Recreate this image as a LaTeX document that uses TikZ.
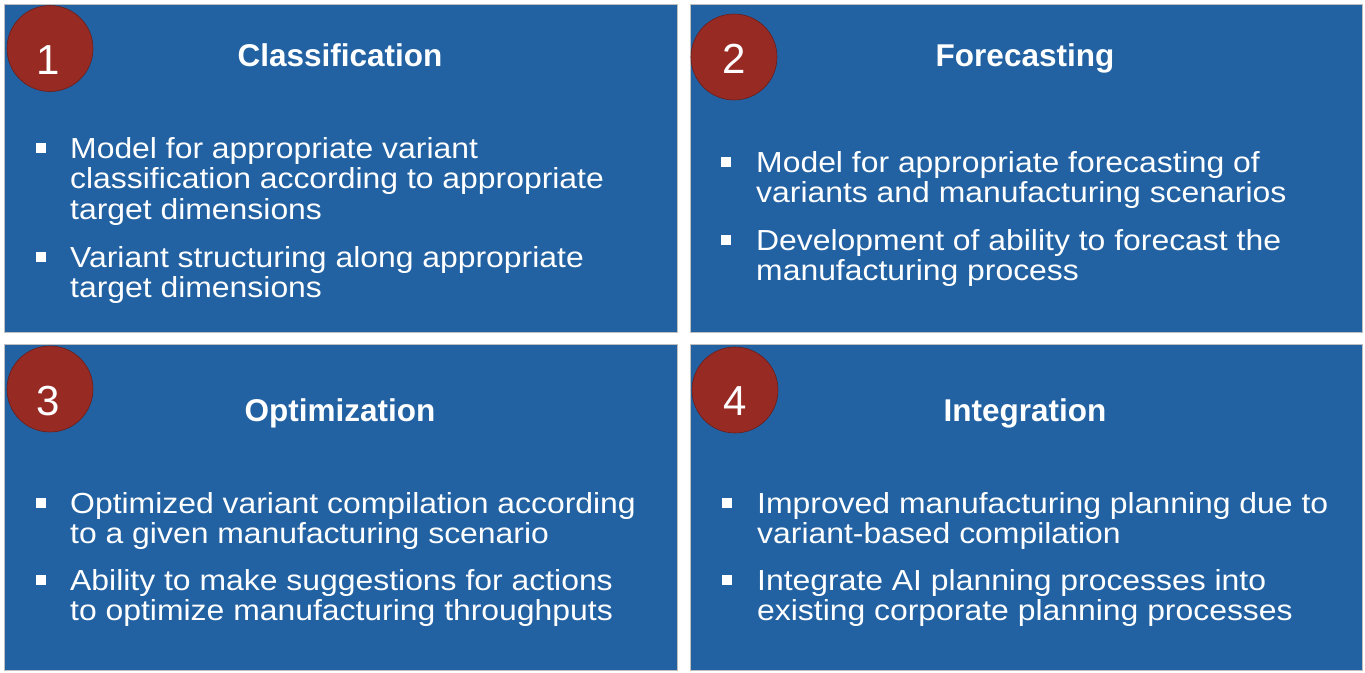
\documentclass[tikz,border=0pt]{standalone}
\usepackage{fontspec}
\setmainfont{Liberation Sans}
\newfontfamily\bodyfont[FakeStretch=1.1]{Liberation Sans}
\definecolor{boxblue}{HTML}{2262A2}
\definecolor{numred}{HTML}{982A24}
\begin{document}
\begin{tikzpicture}[x=1pt,y=-1pt,
  panel/.style={fill=boxblue, draw=black!25, line width=0.8pt},
  numcirc/.style={circle, fill=numred, draw=numred!70!black, line width=0.6pt, minimum size=86pt, inner sep=0pt},
  numtext/.style={text=white, font=\fontsize{42}{42}\selectfont, inner sep=0pt, anchor=base},
  title/.style={text=white, font=\fontsize{31.5}{32}\selectfont\bfseries, inner sep=0pt, anchor=base},
  item/.style={text=white, font=\bodyfont\fontsize{29}{30.5}\selectfont, inner sep=0pt, align=left, anchor=base west},
  bul/.style={fill=white, minimum size=10pt, inner sep=0pt}
]
\useasboundingbox (0,0) rectangle (1365,672);
\fill[white] (0,0) rectangle (1365,672);
% panels
\draw[panel] (4,4) rectangle (677,332);
\draw[panel] (690,4) rectangle (1362,332);
\draw[panel] (4,344) rectangle (677,670);
\draw[panel] (690,344) rectangle (1362,670);
% circles
\node[numcirc] (c1) at (50,48.5) {};
\node[numcirc] (c2) at (734,57) {};
\node[numcirc] (c3) at (50,389) {};
\node[numcirc] (c4) at (735,390) {};
\node[numtext] (n1) at (48,74) {1};
\node[numtext] (n2) at (734,73) {2};
\node[numtext] (n3) at (48,415) {3};
\node[numtext] (n4) at (735,415) {4};
% titles
\node[title] (t1) at (340,66) {Classification};
\node[title] (t2) at (1025,66) {Forecasting};
\node[title] (t3) at (340,421) {Optimization};
\node[title] (t4) at (1025,421) {Integration};
% box 1
\node[bul] (b11) at (40.5,148) {};
\node[item] (i11) at (70,219) {Model for appropriate variant\\classification according to appropriate\\target dimensions};
\node[bul] (b12) at (40.5,257) {};
\node[item] (i12) at (70,297.5) {Variant structuring along appropriate\\target dimensions};
% box 2
\node[bul] (b21) at (726,162) {};
\node[item] (i21) at (756,202.5) {Model for appropriate forecasting of\\variants and manufacturing scenarios};
\node[bul] (b22) at (726,240) {};
\node[item] (i22) at (756,280.5) {Development of ability to forecast the\\manufacturing process};
% box 3
\node[bul] (b31) at (40.5,503) {};
\node[item] (i31) at (70,543.5) {Optimized variant compilation according\\to a given manufacturing scenario};
\node[bul] (b32) at (40.5,580) {};
\node[item] (i32) at (70,620.5) {Ability to make suggestions for actions\\to optimize manufacturing throughputs};
% box 4
\node[bul] (b41) at (726.5,503) {};
\node[item] (i41) at (757,543.5) {Improved manufacturing planning due to\\variant-based compilation};
\node[bul] (b42) at (726.5,580) {};
\node[item] (i42) at (757,620.5) {Integrate AI planning processes into\\existing corporate planning processes};
\end{tikzpicture}
\end{document}
